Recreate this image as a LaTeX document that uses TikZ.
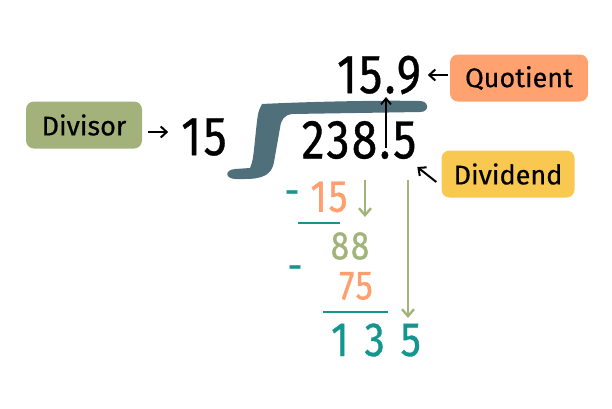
\documentclass[tikz,border=0pt]{standalone}
\usepackage{fontspec}
\setmainfont{Fira Sans}
\newfontfamily\numfont[FakeStretch=0.84,FakeBold=0.7,LetterSpace=4]{Fira Sans}
\newfontfamily\lblfont[FakeBold=0.5]{Fira Sans}
\usetikzlibrary{arrows.meta}
\definecolor{boxgreen}{HTML}{A3B27A}
\definecolor{boxorange}{HTML}{FFA270}
\definecolor{boxyellow}{HTML}{F9C850}
\definecolor{slate}{HTML}{4F6F7A}
\definecolor{ortext}{HTML}{FF9F6E}
\definecolor{grtext}{HTML}{A2B47A}
\definecolor{teal}{HTML}{14968F}
\tikzset{
  lbl/.style={rounded corners=8pt, minimum height=47pt, inner sep=0pt, font=\lblfont\fontsize{27}{27}\selectfont},
  bignum/.style={inner sep=0pt, font=\numfont\fontsize{55}{55}\selectfont},
  midnum/.style={inner sep=0pt, font=\numfont\fontsize{#1}{#1}\selectfont},
  midnum/.default=44,
  pointer/.style={-{Straight Barb[length=6pt,width=11pt]}, line width=2pt, black},
  grarrow/.style={-{Straight Barb[length=7pt,width=12pt]}, line width=2.4pt, grtext},
  rule/.style={line width=2.8pt, teal}
}
\begin{document}
\begin{tikzpicture}[x=1pt,y=-1pt]
\useasboundingbox (0,0) rectangle (612,408);
% labels
\node[lbl, fill=boxgreen, minimum width=116pt] (divisor) at (84,125) {Divisor};
\node[lbl, fill=boxorange, minimum width=138pt] (quotient) at (519,78) {Quotient};
\node[lbl, fill=boxyellow, minimum width=133pt] (dividend) at (508,174) {Dividend};
% bracket
\fill[slate] (262,104) .. controls (300,102) and (380,100) .. (420,101)
  .. controls (429,101) and (430,112) .. (420,112) -- (292,114)
  .. controls (284,115) and (281,120) .. (280,128) -- (274,162)
  .. controls (272,175) and (262,179) .. (245,179) -- (236,179)
  .. controls (225,179) and (224,170) .. (235,169) -- (250,168)
  .. controls (253,160) .. (256,130) .. controls (258,112) .. (262,104) -- cycle;
% numbers
\node[bignum] (d15) at (204,137) {15};
\node[bignum] (q) at (379,75) {15.9};
\node[bignum] (n) at (359,140) {238.5};
\coordinate (qdot) at (386,97);
\coordinate (ndot) at (386,148);
% pointers
\draw[pointer] (divisor.east) ++(6,7) coordinate (a1) -- ++(20,0) coordinate (a2);
\draw[pointer] (quotient.west) ++(-2,-3) coordinate (b1) -- ++(-20,0) coordinate (b2);
\draw[pointer] (dividend.west) ++(-5,8) coordinate (c1) -- ++(-19,-15) coordinate (c2);
\draw[line width=1.8pt,-{Straight Barb[length=6pt,width=10pt]}] (ndot) -- (qdot);
% working
\node[midnum=44, text=teal] (m1) at (292,198) {-};
\node[midnum=45, text=ortext] (s15) at (329,197) {15};
\draw[rule] (298,223) coordinate (u1a) -- (340,223) coordinate (u1b);
\node[midnum=40, text=grtext] (s88) at (350,246) {88};
\node[midnum=44, text=teal] (m2) at (295,273) {-};
\node[midnum=41, text=ortext] (s75) at (356,286) {75};
\draw[rule] (323,312) coordinate (u2a) -- (388,312) coordinate (u2b);
\node[midnum=48, text=teal] (r135) at (376,340) {1\,\,3\,\,5};
\coordinate (g1a) at (365,180); \coordinate (g1b) at (365,217);
\coordinate (g2a) at (408,180); \coordinate (g2b) at (408,318);
\draw[grarrow] (g1a) -- (g1b);
\draw[grarrow] (g2a) -- (g2b);
\end{tikzpicture}
\end{document}
